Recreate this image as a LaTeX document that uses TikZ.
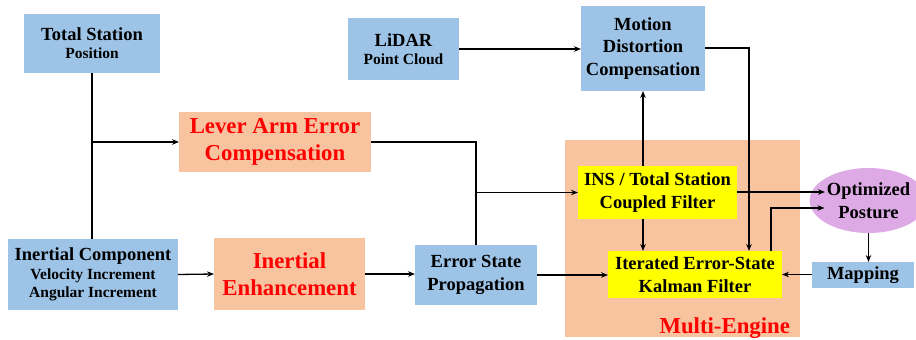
\documentclass[tikz,border=0pt]{standalone}
\usepackage{fontspec}
\setmainfont{Liberation Serif}
\usetikzlibrary{arrows.meta,shapes.geometric,calc}
\definecolor{boxblue}{RGB}{157,195,230}
\definecolor{boxorange}{RGB}{248,196,160}
\definecolor{boxyellow}{RGB}{255,255,0}
\definecolor{boxviolet}{RGB}{221,170,230}
\definecolor{txtred}{RGB}{255,0,0}
\newcommand{\mainf}{\fontsize{18.5}{22.5}\selectfont\bfseries}
\newcommand{\subf}{\fontsize{15.5}{18}\selectfont\bfseries}
\newcommand{\redf}{\fontsize{22.8}{26.5}\selectfont\bfseries}
\tikzset{
  base/.style={inner sep=0pt, outer sep=0pt, align=center, text=black},
  bluebox/.style={base, fill=boxblue, font=\mainf},
  orangebox/.style={base, fill=boxorange, font=\redf, text=txtred},
  yellowbox/.style={base, fill=boxyellow, font=\mainf},
  oval/.style={base, ellipse, fill=boxviolet, font=\mainf},
  conn/.style={line width=1.3pt, black},
  arr/.style={conn, -{Stealth[length=7pt,width=5.5pt]}},
}
\begin{document}
\begin{tikzpicture}[x=1pt,y=-1pt]
\useasboundingbox (0,0) rectangle (916,340);
% background for multi-engine
\node[base, fill=boxorange, minimum width=235pt, minimum height=197pt] (me) at (682.5,238.5) {};
\node[base, font=\redf, text=txtred, anchor=base east] (melabel) at (790,333) {Multi-Engine};

\node[bluebox, minimum width=136pt, minimum height=59pt] (ts) at (92,43.5)
  {Total Station\\[-4.5pt]{\subf Position}};
\node[bluebox, minimum width=111pt, minimum height=62pt] (lidar) at (403.5,49)
  {LiDAR\\[-4.5pt]{\subf Point Cloud}};
\node[bluebox, minimum width=124pt, minimum height=85pt] (mdc) at (643,48.5)
  {Motion\\Distortion\\Compensation};
\node[orangebox, minimum width=192pt, minimum height=60pt] (lever) at (275,142)
  {Lever Arm Error\\Compensation};
\node[bluebox, minimum width=170pt, minimum height=71pt] (ic) at (93,274.5)
  {Inertial Component\\[-3pt]{\subf Velocity Increment}\\[-4.5pt]{\subf Angular Increment}};
\node[orangebox, minimum width=151pt, minimum height=72pt] (ie) at (289.5,274)
  {Inertial\\Enhancement};
\node[bluebox, minimum width=122pt, minimum height=60pt] (esp) at (476,275)
  {Error State\\Propagation};
\node[yellowbox, minimum width=159pt, minimum height=53pt] (ins) at (657.5,192.5)
  {INS / Total Station\\Coupled Filter};
\node[yellowbox, minimum width=174pt, minimum height=47pt] (ieskf) at (695,274.5)
  {Iterated Error-State\\Kalman Filter};
\node[oval, minimum width=91pt, minimum height=65pt] (opt) at (868.5,200.5)
  {Optimized\\Posture};
\node[bluebox, minimum width=102pt, minimum height=26pt] (map) at (863,275)
  {Mapping};

\coordinate (tsj) at (ts.south |- lever.west);
\coordinate (espj) at (esp.north |- ins.west);
\coordinate (mdcr) at (749,48);
\coordinate (mdcd) at (749,251);
\coordinate (insb) at (643,219);
\coordinate (kin) at (643,251);
\coordinate (kup) at (771,251);
\coordinate (kturn) at (771,208);
\coordinate (optin1) at (825,192);
\coordinate (optin2) at (824.5,208);

\draw[conn] (ts.south) -- (ts.south |- ic.north);
\draw[arr] (tsj) -- (lever.west);
\draw[conn] (lever.east) -| (esp.north);
\draw[arr] (espj) -- (ins.west);
\draw[arr] (ic.east) -- (ie.west);
\draw[arr] (ie.east) -- (ie.east -| esp.west);
\draw[arr] (esp.east) -- (esp.east -| ieskf.west);
\draw[arr] (lidar.east) -- (lidar.east -| mdc.west);
\draw[arr] (ins.north -| mdc.south) -- (mdc.south);
\draw[arr] (mdc.east |- mdcr) -- (mdcr) -- (mdcd);
\draw[arr] (insb) -- (kin);
\draw[arr] (ins.east |- optin1) -- (optin1);
\draw[arr] (kup) -- (kturn) -- (optin2);
\draw[arr] (opt.south) -- (opt.south |- map.north);
\draw[arr] (map.west |- ieskf.east) -- (ieskf.east);
\end{tikzpicture}
\end{document}
